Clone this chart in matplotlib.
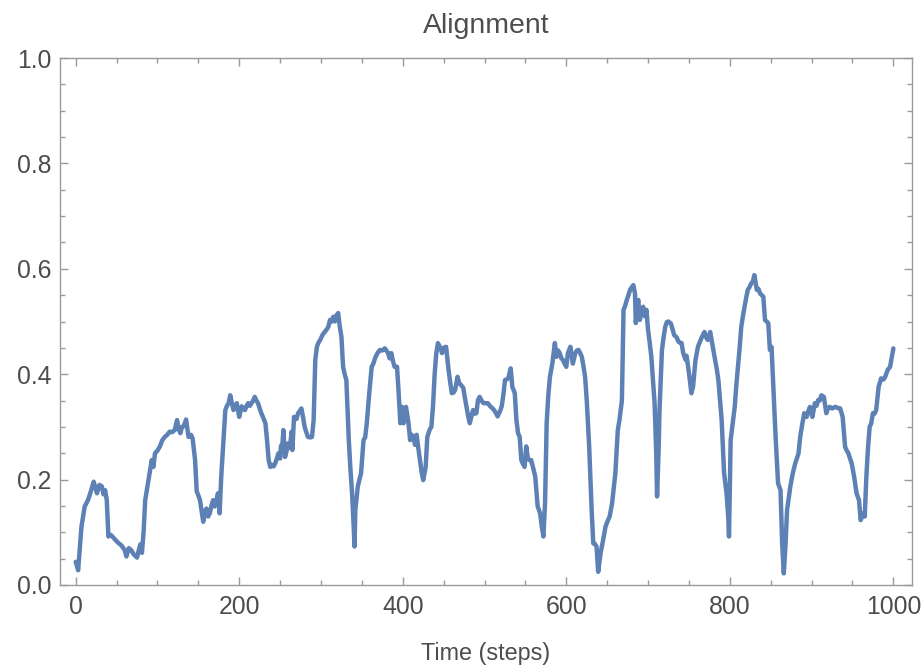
import matplotlib
matplotlib.use("Agg")
import matplotlib.pyplot as plt
from matplotlib.ticker import MultipleLocator

# Alignment order parameter over simulation time
steps = [0, 3, 7, 11, 15, 18, 22, 26, 29, 32, 34, 36, 38, 40, 43, 46, 49, 52, 56, 60,
         62, 65, 68, 71, 75, 77, 79, 81, 83, 85, 89, 93, 95, 97, 100, 103, 106, 109, 112, 115,
         118, 121, 124, 126, 128, 130, 132, 135, 138, 141, 143, 146, 148, 150, 152, 154, 156, 158, 160, 162,
         164, 166, 168, 170, 172, 174, 176, 178, 181, 183, 185, 187, 189, 191, 193, 195, 197, 200, 203, 205,
         207, 209, 211, 213, 215, 217, 219, 221, 223, 225, 227, 230, 232, 234, 236, 238, 240, 242, 244, 246,
         248, 250, 251, 253, 254, 256, 258, 260, 262, 264, 265, 267, 270, 272, 274, 276, 278, 280, 282, 284,
         287, 289, 291, 293, 295, 297, 299, 302, 305, 307, 309, 311, 313, 315, 317, 319, 321, 323, 325, 327,
         329, 331, 332, 334, 336, 338, 340, 341, 342, 345, 347, 349, 352, 354, 356, 359, 362, 364, 366, 369,
         372, 375, 378, 380, 382, 384, 386, 388, 390, 393, 395, 397, 399, 401, 404, 407, 409, 411, 413, 415,
         417, 419, 421, 423, 425, 428, 430, 433, 435, 437, 439, 441, 443, 446, 448, 450, 453, 456, 458, 460,
         462, 464, 467, 469, 471, 474, 476, 478, 480, 482, 484, 486, 488, 490, 492, 494, 497, 499, 501, 504,
         507, 510, 513, 516, 519, 521, 523, 525, 527, 529, 532, 534, 537, 539, 541, 543, 545, 547, 549, 551,
         553, 555, 557, 559, 562, 565, 568, 570, 572, 574, 576, 578, 580, 583, 586, 588, 590, 592, 594, 596,
         598, 600, 602, 605, 608, 611, 613, 615, 617, 619, 621, 623, 625, 628, 631, 633, 635, 637, 639, 642,
         645, 648, 651, 653, 656, 660, 663, 665, 668, 670, 672, 674, 676, 678, 680, 682, 684, 685, 687, 688,
         690, 692, 694, 696, 698, 700, 702, 704, 706, 708, 710, 711, 713, 714, 716, 717, 719, 721, 723, 725,
         728, 730, 732, 735, 737, 739, 741, 743, 746, 747, 749, 751, 753, 755, 758, 761, 763, 766, 769, 771,
         773, 776, 778, 780, 782, 784, 786, 788, 790, 793, 796, 798, 799, 801, 803, 806, 808, 810, 812, 814,
         816, 818, 820, 822, 824, 826, 828, 830, 832, 833, 835, 837, 839, 841, 843, 845, 847, 849, 851, 853,
         856, 859, 862, 864, 866, 868, 870, 872, 874, 877, 880, 882, 884, 886, 888, 891, 894, 896, 898, 901,
         904, 906, 908, 910, 912, 915, 918, 920, 922, 925, 929, 932, 935, 938, 941, 943, 945, 947, 949, 952,
         955, 958, 960, 963, 965, 967, 969, 971, 973, 975, 977, 979, 982, 985, 988, 990, 993, 996, 999, 1000]

alignment = [0.044, 0.028, 0.110, 0.149, 0.161, 0.175, 0.196, 0.174, 0.190, 0.187, 0.172, 0.180, 0.161, 0.092, 0.095, 0.090, 0.085, 0.080, 0.075, 0.066,
             0.054, 0.070, 0.066, 0.058, 0.052, 0.065, 0.077, 0.061, 0.100, 0.161, 0.199, 0.237, 0.224, 0.250, 0.255, 0.263, 0.275, 0.281, 0.285, 0.291,
             0.290, 0.294, 0.313, 0.295, 0.288, 0.300, 0.301, 0.314, 0.281, 0.285, 0.278, 0.237, 0.178, 0.170, 0.161, 0.140, 0.120, 0.140, 0.145, 0.130,
             0.136, 0.150, 0.161, 0.149, 0.160, 0.174, 0.136, 0.206, 0.280, 0.332, 0.340, 0.345, 0.360, 0.345, 0.332, 0.340, 0.345, 0.319, 0.339, 0.335,
             0.332, 0.340, 0.345, 0.340, 0.345, 0.350, 0.357, 0.350, 0.345, 0.335, 0.326, 0.315, 0.307, 0.275, 0.237, 0.224, 0.228, 0.225, 0.231, 0.240,
             0.250, 0.240, 0.263, 0.270, 0.294, 0.243, 0.255, 0.269, 0.260, 0.291, 0.256, 0.319, 0.315, 0.326, 0.330, 0.335, 0.319, 0.300, 0.290, 0.281,
             0.280, 0.281, 0.313, 0.427, 0.452, 0.460, 0.465, 0.475, 0.481, 0.485, 0.490, 0.503, 0.500, 0.509, 0.500, 0.512, 0.516, 0.490, 0.471, 0.414,
             0.400, 0.389, 0.351, 0.275, 0.220, 0.174, 0.110, 0.073, 0.142, 0.187, 0.200, 0.212, 0.275, 0.280, 0.307, 0.364, 0.414, 0.420, 0.430, 0.440,
             0.446, 0.445, 0.449, 0.445, 0.440, 0.430, 0.440, 0.425, 0.414, 0.414, 0.364, 0.307, 0.338, 0.307, 0.338, 0.307, 0.275, 0.285, 0.281, 0.266,
             0.285, 0.260, 0.237, 0.215, 0.199, 0.224, 0.281, 0.295, 0.300, 0.340, 0.400, 0.440, 0.459, 0.450, 0.440, 0.450, 0.452, 0.408, 0.385, 0.364,
             0.365, 0.370, 0.395, 0.383, 0.380, 0.374, 0.355, 0.338, 0.320, 0.307, 0.320, 0.332, 0.325, 0.326, 0.351, 0.357, 0.348, 0.345, 0.345, 0.345,
             0.339, 0.335, 0.329, 0.320, 0.330, 0.339, 0.360, 0.389, 0.390, 0.392, 0.411, 0.376, 0.364, 0.313, 0.288, 0.281, 0.237, 0.230, 0.224, 0.263,
             0.240, 0.237, 0.237, 0.225, 0.206, 0.149, 0.136, 0.111, 0.092, 0.155, 0.307, 0.360, 0.395, 0.421, 0.459, 0.433, 0.445, 0.440, 0.430, 0.427,
             0.420, 0.414, 0.440, 0.452, 0.420, 0.440, 0.445, 0.446, 0.440, 0.433, 0.415, 0.395, 0.351, 0.262, 0.142, 0.079, 0.078, 0.073, 0.025, 0.061,
             0.085, 0.111, 0.123, 0.130, 0.155, 0.212, 0.294, 0.313, 0.350, 0.522, 0.530, 0.541, 0.550, 0.560, 0.565, 0.569, 0.553, 0.497, 0.530, 0.541,
             0.503, 0.520, 0.528, 0.510, 0.522, 0.484, 0.460, 0.433, 0.390, 0.345, 0.250, 0.168, 0.260, 0.332, 0.410, 0.446, 0.470, 0.490, 0.499, 0.500,
             0.496, 0.485, 0.474, 0.470, 0.462, 0.460, 0.459, 0.440, 0.427, 0.435, 0.414, 0.390, 0.364, 0.376, 0.427, 0.452, 0.460, 0.471, 0.480, 0.470,
             0.465, 0.480, 0.462, 0.445, 0.427, 0.410, 0.389, 0.350, 0.313, 0.212, 0.174, 0.130, 0.092, 0.275, 0.300, 0.338, 0.380, 0.414, 0.450, 0.490,
             0.510, 0.528, 0.545, 0.560, 0.565, 0.572, 0.575, 0.588, 0.570, 0.560, 0.562, 0.553, 0.550, 0.547, 0.503, 0.500, 0.497, 0.446, 0.452, 0.383,
             0.281, 0.193, 0.180, 0.079, 0.022, 0.073, 0.142, 0.165, 0.187, 0.212, 0.231, 0.240, 0.250, 0.280, 0.300, 0.326, 0.319, 0.330, 0.338, 0.319,
             0.345, 0.340, 0.351, 0.350, 0.360, 0.357, 0.326, 0.335, 0.338, 0.335, 0.338, 0.336, 0.335, 0.319, 0.262, 0.255, 0.250, 0.240, 0.231, 0.206,
             0.174, 0.161, 0.123, 0.136, 0.130, 0.206, 0.260, 0.300, 0.307, 0.326, 0.325, 0.332, 0.376, 0.392, 0.390, 0.395, 0.408, 0.414, 0.440, 0.449]

x_ticks = [0, 200, 400, 600, 800, 1000]
y_ticks = [0.0, 0.2, 0.4, 0.6, 0.8, 1.0]
y_tick_labels = ["0.0", "0.2", "0.4", "0.6", "0.8", "1.0"]

plt.rcParams["font.family"] = ["Liberation Sans", "DejaVu Sans"]

text_color = "#4d4d4d"
frame_color = "#9a9a9a"
line_color = "#5e81b5"

fig = plt.figure(figsize=(9.22, 6.68), dpi=100)
ax = fig.add_axes([60 / 922, 1 - 585 / 668, 852 / 922, 527 / 668])

ax.plot(steps, alignment, color=line_color, lw=3.2, solid_joinstyle="round",
        solid_capstyle="round")

ax.set_xlim(-19.2, 1022.8)
ax.set_ylim(0.0, 1.0)
ax.set_xticks(x_ticks)
ax.set_xticklabels([str(t) for t in x_ticks])
ax.set_yticks(y_ticks)
ax.set_yticklabels(y_tick_labels)
ax.xaxis.set_minor_locator(MultipleLocator(50))
ax.yaxis.set_minor_locator(MultipleLocator(0.05))

for side in ax.spines.values():
    side.set_color(frame_color)
    side.set_linewidth(1.0)

ax.tick_params(which="both", direction="in", top=True, right=True,
               color=frame_color, width=1.0, labelcolor=text_color, labelsize=17.8)
ax.tick_params(which="major", length=6)
ax.tick_params(which="minor", length=3.5)
ax.tick_params(axis="x", which="major", pad=7)
ax.tick_params(axis="y", which="major", pad=6)

ax.set_xlabel("Time (steps)", fontsize=16.8, color=text_color, labelpad=17)
ax.set_title("Alignment", fontsize=20.5, color=text_color, pad=18)

fig.savefig("out.png", dpi=100)
